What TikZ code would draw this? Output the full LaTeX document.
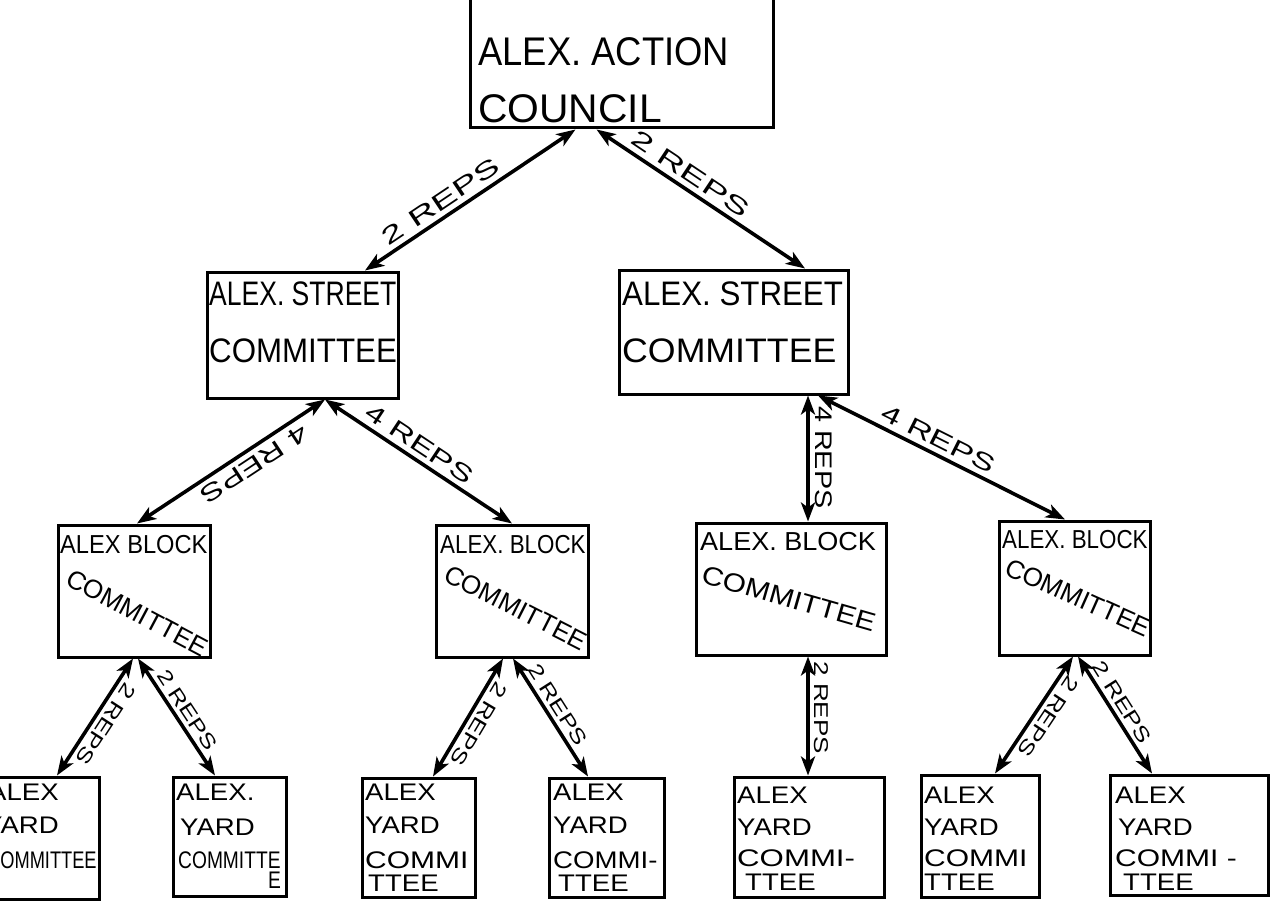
\documentclass[tikz,border=0pt]{standalone}
\usepackage{fontspec}
\setmainfont{Liberation Sans}
\usetikzlibrary{arrows.meta}
\newcommand{\sx}[2]{\scalebox{#1}[1]{#2}}
\begin{document}
\begin{tikzpicture}[x=1pt,y=-1pt,
  box/.style={draw=black,line width=3pt,inner sep=0pt},
  conn/.style={line width=3.6pt,{Stealth[length=19pt,width=14pt,inset=5pt]}-{Stealth[length=19pt,width=14pt,inset=5pt]}},
  txt/.style={inner sep=0pt,anchor=base west},
  tA/.style={txt,font=\fontsize{40}{40}\selectfont},
  tB/.style={txt,font=\fontsize{34}{34}\selectfont},
  tC/.style={txt,font=\fontsize{26}{26}\selectfont},
  tD/.style={txt,font=\fontsize{24}{24}\selectfont},
  eA/.style={sloped,inner sep=5pt,font=\fontsize{24}{24}\selectfont},
  eB/.style={sloped,inner sep=4pt,font=\fontsize{20}{20}\selectfont},
  flip/.style={allow upside down}
]
\clip (0,0) rectangle (1276,901);
\fill[white] (0,0) rectangle (1276,901);

% boxes
\node[box,minimum width=303pt,minimum height=148pt] (council) at (621.5,54) {};
\node[box,minimum width=191pt,minimum height=126pt] (sl) at (302.5,335) {};
\node[box,minimum width=229pt,minimum height=124pt] (sr) at (733.5,332) {};
\node[box,minimum width=152pt,minimum height=132pt] (b1) at (134,591) {};
\node[box,minimum width=152pt,minimum height=132pt] (b2) at (512,591) {};
\node[box,minimum width=190pt,minimum height=132pt] (b3) at (791,589) {};
\node[box,minimum width=151pt,minimum height=134pt] (b4) at (1074.5,588) {};
\node[box,minimum width=119pt,minimum height=122pt] (y1) at (39.5,838) {};
\node[box,minimum width=113pt,minimum height=119pt] (y2) at (229.5,836.5) {};
\node[box,minimum width=113pt,minimum height=119pt] (y3) at (418.5,837.5) {};
\node[box,minimum width=115pt,minimum height=119pt] (y4) at (606.5,837.5) {};
\node[box,minimum width=150pt,minimum height=120pt] (y5) at (809,837) {};
\node[box,minimum width=118pt,minimum height=122pt] (y6) at (980,836) {};
\node[box,minimum width=158pt,minimum height=120pt] (y7) at (1189,835) {};

% texts
\node[tA] (c1) at (478,66) {\sx{0.91}{ALEX. ACTION}};
\node[tA] (c2) at (478,123) {\sx{1.02}{COUNCIL}};
\node[tB] (sl1) at (209,305) {\sx{0.78}{ALEX. STREET}};
\node[tB] (sl2) at (209,362) {\sx{0.92}{COMMITTEE}};
\node[tB] (sr1) at (622,305) {\sx{0.92}{ALEX. STREET}};
\node[tB] (sr2) at (622,362) {\sx{1.05}{COMMITTEE}};
\node[tC] (b1a) at (60,553) {\sx{0.91}{ALEX BLOCK}};
\node[tC,rotate=-28] (b1b) at (64,584) {\sx{1.0}{COMMITTEE}};
\node[tC] (b2a) at (440,553) {\sx{0.86}{ALEX. BLOCK}};
\node[tC,rotate=-27] (b2b) at (442,580) {\sx{1.0}{COMMITTEE}};
\node[tC] (b3a) at (700,550) {\sx{1.04}{ALEX. BLOCK}};
\node[tC,rotate=-16] (b3b) at (700,582) {\sx{1.15}{COMMITTEE}};
\node[tC] (b4a) at (1002,548) {\sx{0.86}{ALEX. BLOCK}};
\node[tC,rotate=-24] (b4b) at (1003,574) {\sx{1.0}{COMMITTEE}};

\node[tD] (y1a) at (-12,800) {\sx{1.15}{ALEX}};
\node[tD] (y1b) at (-16,833) {\sx{1.15}{YARD}};
\node[tD] (y1c) at (-13,868) {\sx{0.76}{COMMITTEE}};
\node[tD] (y2a) at (176,800) {\sx{1.15}{ALEX.}};
\node[tD] (y2b) at (180,835) {\sx{1.15}{YARD}};
\node[tD] (y2c) at (178,868) {\sx{0.8}{COMMITTE}};
\node[tD] (y2d) at (268,888) {\sx{0.8}{E}};
\node[tD] (y3a) at (365,800) {\sx{1.15}{ALEX}};
\node[tD] (y3b) at (365,833) {\sx{1.15}{YARD}};
\node[tD] (y3c) at (365,868) {\sx{1.25}{COMMI}};
\node[tD] (y3d) at (368,891) {\sx{1.15}{TTEE}};
\node[tD] (y4a) at (553,800) {\sx{1.15}{ALEX}};
\node[tD] (y4b) at (553,833) {\sx{1.15}{YARD}};
\node[tD] (y4c) at (553,868) {\sx{1.15}{COMMI-}};
\node[tD] (y4d) at (558,891) {\sx{1.15}{TTEE}};
\node[tD] (y5a) at (737,803) {\sx{1.15}{ALEX}};
\node[tD] (y5b) at (737,835) {\sx{1.15}{YARD}};
\node[tD] (y5c) at (737,866) {\sx{1.3}{COMMI-}};
\node[tD] (y5d) at (745,890) {\sx{1.15}{TTEE}};
\node[tD] (y6a) at (924,803) {\sx{1.15}{ALEX}};
\node[tD] (y6b) at (924,835) {\sx{1.15}{YARD}};
\node[tD] (y6c) at (924,866) {\sx{1.25}{COMMI}};
\node[tD] (y6d) at (924,890) {\sx{1.15}{TTEE}};
\node[tD] (y7a) at (1115,803) {\sx{1.15}{ALEX}};
\node[tD] (y7b) at (1118,835) {\sx{1.15}{YARD}};
\node[tD] (y7c) at (1115,866) {\sx{1.25}{COMMI -}};
\node[tD] (y7d) at (1123,890) {\sx{1.15}{TTEE}};

% connectors
\draw[conn] ([xshift=-46pt]council.south) -- node[eA,above,pos=0.6] {\sx{1.6}{2 REPS}} ([xshift=62.5pt]sl.north);
\draw[conn] ([xshift=-25pt]council.south) -- node[eA,above,pos=0.41] {\sx{1.6}{2 REPS}} ([xshift=71.5pt]sr.north);
\draw[conn] ([xshift=22.5pt]sl.south) -- node[eA,flip,above,pos=0.42] {\sx{1.45}{4 REPS}} ([xshift=3pt]b1.north);
\draw[conn] ([xshift=22.5pt]sl.south) -- node[eA,above,pos=0.46] {\sx{1.45}{4 REPS}} (b2.north);
\draw[conn] ([xshift=74.5pt]sr.south) -- node[eA,flip,above,pos=0.49] {\sx{1.2}{4 REPS}} ([xshift=17pt]b3.north);
\draw[conn] ([xshift=84.5pt]sr.south) -- node[eA,above,pos=0.46] {\sx{1.45}{4 REPS}} ([xshift=-9.5pt]b4.north);
\draw[conn] ([xshift=-1pt]b1.south) -- node[eB,flip,above,pos=0.5] {\sx{1.3}{2 REPS}} ([xshift=17.5pt]y1.north);
\draw[conn] ([xshift=4pt]b1.south) -- node[eB,above,pos=0.5] {\sx{1.3}{2 REPS}} ([xshift=-14.5pt]y2.north);
\draw[conn] ([xshift=-9pt]b2.south) -- node[eB,flip,above,pos=0.5] {\sx{1.3}{2 REPS}} ([xshift=14.5pt]y3.north);
\draw[conn] ([xshift=1pt]b2.south) -- node[eB,above,pos=0.45] {\sx{1.3}{2 REPS}} ([xshift=-18.5pt]y4.north);
\draw[conn] ([xshift=17pt]b3.south) -- node[eB,flip,above,pos=0.43] {\sx{1.3}{2 REPS}} ([xshift=-1pt]y5.north);
\draw[conn] ([xshift=-1.5pt]b4.south) -- node[eB,flip,above,pos=0.45] {\sx{1.3}{2 REPS}} ([xshift=15pt]y6.north);
\draw[conn] ([xshift=3.5pt]b4.south) -- node[eB,above,pos=0.45] {\sx{1.3}{2 REPS}} ([xshift=-37pt]y7.north);
\end{tikzpicture}
\end{document}
